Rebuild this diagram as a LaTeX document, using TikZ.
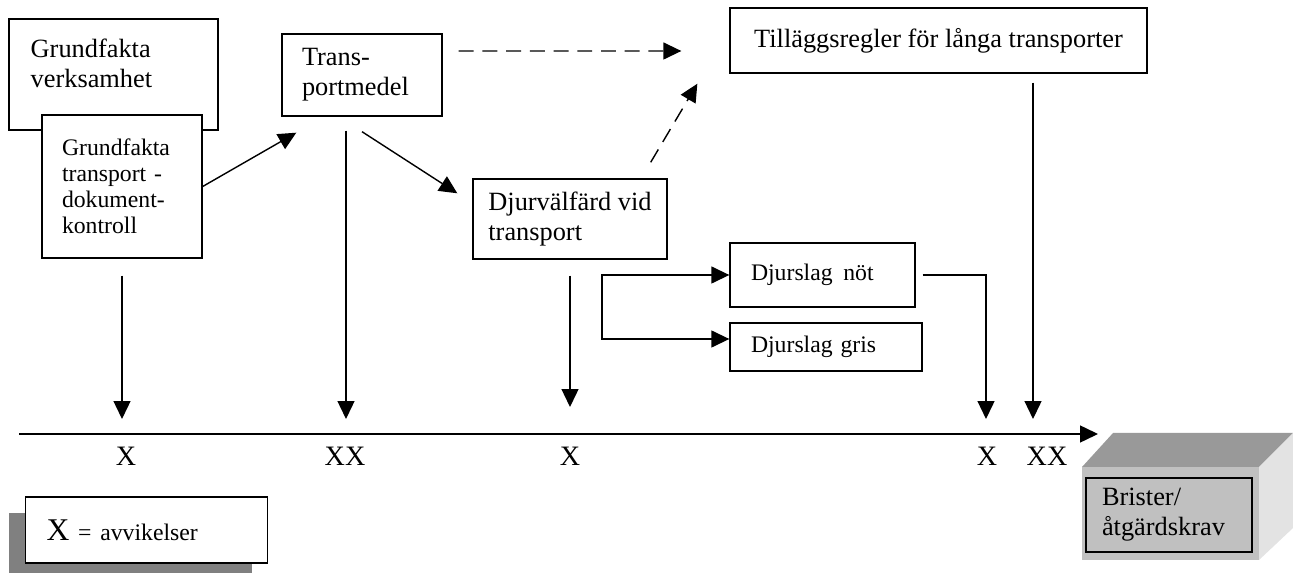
\documentclass[tikz,border=0pt]{standalone}
\usepackage{fontspec}
\setmainfont{Liberation Serif}
\usetikzlibrary{arrows.meta,calc}
\definecolor{topgray}{HTML}{999999}
\definecolor{frontgray}{HTML}{C0C0C0}
\definecolor{sidegray}{HTML}{E3E3E3}
\definecolor{shadowgray}{HTML}{808080}
\begin{document}
\begin{tikzpicture}[x=0.02cm,y=-0.02cm,>={Triangle[length=0.36cm,width=0.34cm]},
		line width=0.8pt, font=\fontsize{15}{17}\selectfont,
		box/.style={draw,fill=white,align=left,inner xsep=0.4cm,inner ysep=0pt},
		small/.style={font=\fontsize{13.5}{14.7}\selectfont},
		dasharrow/.style={->,dash pattern=on 8.5pt off 5pt}]
	\useasboundingbox (0,0) rectangle (1293,573);
	% rutorna
	\node[box,minimum width=4.18cm,minimum height=2.22cm] (verk) at (113.5,74.5) {};
	\node[anchor=north west,align=left,inner sep=0pt] (verktext) at (30,38) {Grundfakta\\verksamhet};
	\node[box,small,text width=2.4cm,minimum height=2.86cm] (trk) at (122,186.5) {Grundfakta\\transport -\\dokument-\\kontroll};
	\node[box,text width=2.4cm,minimum height=1.64cm] (trans) at (362,75) {Trans-\\portmedel};
	\node[box,align=center,minimum width=8.34cm,minimum height=1.3cm] (till) at (938.5,40.5) {Tilläggsregler för långa transporter};
	\node[box,minimum width=3.88cm,minimum height=1.6cm,inner xsep=0.25cm] (djur) at (570,219) {Djurvälfärd vid\\transport};
	\node[box,small,text width=2.86cm,minimum height=1.28cm,inner xsep=0.42cm] (nut) at (822.5,275) {Djurslag\hspace{0.45em}nöt};
	\node[box,small,text width=3.0cm,minimum height=0.96cm,inner xsep=0.42cm] (gris) at (826,347) {Djurslag gris};
	% pilar mellan rutorna
	\draw[->] (trk.east) -- ($(trans.south west)+(15,16)$);
	\draw[->] ($(trans.south)+(0,15)$) -- ($(djur.north west)+(-15,15)$);
	\draw[dasharrow] ($(trans.east)+(16,-24)$) -- ($(till.west)+(-48,10.5)$);
	\draw[dasharrow] ($(djur.north east)+(-17,-16)$) -- ($(till.south west)+(-32,10)$);
	\coordinate (split) at (602,306);
	\draw[->] (split) |- (nut.west);
	\draw[->] (split) |- ($(gris.west)+(0,-8)$);
	% tidslinjen
	\coordinate (axs) at (19,434);
	\coordinate (axe) at (1098,434);
	\draw[->] (axs) -- (axe);
	\coordinate (tip1) at (122,419);
	\coordinate (tip2) at (346,419);
	\coordinate (tip3) at (570,407);
	\coordinate (tip4) at (986,419);
	\coordinate (tip5) at (1033,419);
	\draw[->,shorten <=0.34cm] (trk.south -| tip1) -- (tip1);
	\draw[->,shorten <=0.28cm] (trans.south -| tip2) -- (tip2);
	\draw[->,shorten <=0.32cm] (djur.south -| tip3) -- (tip3);
	\draw[->] ($(nut.east)+(7,0)$) -| (tip4);
	\draw ($(gris.east)+(0,-8)$) -- ($(gris.east)+(0,-8)$ -| tip4);
	\draw[->,shorten <=0.18cm] (till.south -| tip5) -- (tip5);
	\foreach \xpos/\lbl/\nm in {126/X/xa,345/XX/xb,570/X/xc,987/X/xd,1047/XX/xe}
		\node[anchor=base,inner sep=0pt,font=\fontsize{16}{17}\selectfont] (\nm) at (\xpos,465) {\lbl};
	% teckenförklaring
	\fill[shadowgray] (9,513) rectangle (252,573);
	\node[box,text width=4.0cm,minimum height=1.32cm,inner xsep=0.42cm] (legend) at (146.5,530)
		{{\fontsize{18}{18}\selectfont X} {\fontsize{13.5}{15}\selectfont = avvikelser}};
	% lådan
	\fill[topgray] (1082,467) -- (1113,433) -- (1293,433) -- (1259,467) -- cycle;
	\fill[frontgray] (1082,467) rectangle (1259,560);
	\fill[sidegray] (1259,467) -- (1293,433) -- (1293,528) -- (1259,560) -- cycle;
	\node[box,fill=frontgray,text width=2.68cm,minimum height=1.48cm,inner xsep=0.32cm] (brist) at (1169,515)
		{Brister/\\åtgärdskrav};
\end{tikzpicture}
\end{document}
